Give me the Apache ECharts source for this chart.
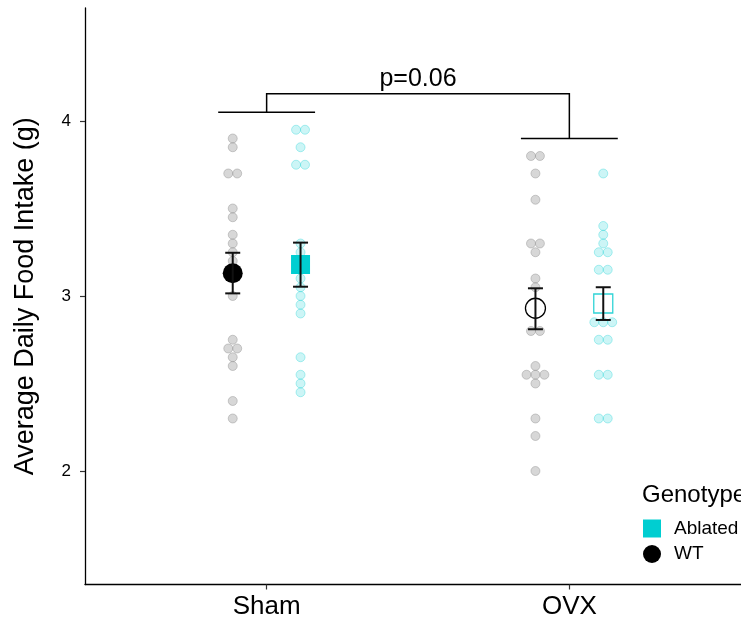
<!DOCTYPE html>
<html>
<head>
<meta charset="utf-8">
<script src="https://cdn.jsdelivr.net/npm/echarts@6/dist/echarts.min.js"></script>
<style>
html,body{margin:0;padding:0;background:#fff;}
#chart{width:741px;height:623px;}
</style>
</head>
<body>
<div id="chart"></div>
<script>
// ---- data ----
const categories = ['Sham', 'OVX'];
const genotypes = ['Ablated', 'WT'];
const yTicks = [2, 3, 4];

// individual animals (g/day)
const wtSham  = [3.90, 3.85, 3.70, 3.70, 3.50, 3.45, 3.35, 3.30, 3.25, 3.20, 3.00, 2.75, 2.70, 2.70, 2.65, 2.60, 2.40, 2.30];
const ablSham = [3.95, 3.95, 3.85, 3.75, 3.75, 3.30, 3.25, 3.20, 3.15, 3.10, 3.05, 3.00, 2.95, 2.90, 2.65, 2.55, 2.50, 2.45];
const wtOVX   = [3.80, 3.80, 3.70, 3.55, 3.30, 3.30, 3.25, 3.10, 3.05, 2.80, 2.80, 2.60, 2.55, 2.55, 2.55, 2.50, 2.30, 2.20, 2.00];
const ablOVX  = [3.70, 3.40, 3.35, 3.30, 3.25, 3.25, 3.15, 3.15, 2.85, 2.85, 2.85, 2.75, 2.75, 2.55, 2.55, 2.30, 2.30];

// group means and SE limits [Sham, OVX]
const wtMean  = [3.13, 2.93];
const wtLo    = [3.015, 2.81];
const wtHi    = [3.247, 3.044];
const ablMean = [3.18, 2.957];
const ablLo   = [3.053, 2.863];
const ablHi   = [3.305, 3.05];

// significance bracket
const bracketLow = [4.05, 3.90];
const bracketTop = 4.155;
const pLabel = 'p=0.06';

// ---- layout helpers ----
const dodge = 0.112;
const stackStep = 0.0295;
const FONT = '"Liberation Sans", Arial, Helvetica, sans-serif';

function spread(values, center) {
  const counts = {}, seen = {};
  values.forEach(v => { const k = v.toFixed(2); counts[k] = (counts[k] || 0) + 1; });
  return values.map(v => {
    const k = v.toFixed(2);
    const i = seen[k] || 0; seen[k] = i + 1;
    return [center + (i - (counts[k] - 1) / 2) * stackStep, v];
  });
}

const grayDot = {color: 'rgba(160,160,160,0.42)', borderColor: 'rgba(140,140,140,0.42)', borderWidth: 1, opacity: 1};
const cyanDot = {color: 'rgba(0,206,209,0.2)', borderColor: 'rgba(0,206,209,0.3)', borderWidth: 1, opacity: 1};

function dotSeries(vals, center, style) {
  return {
    type: 'scatter', name: 'dots', data: spread(vals, center), symbol: 'circle', symbolSize: 9,
    itemStyle: style, z: 1, silent: true, emphasis: {disabled: true}
  };
}

const errData = [
  [1 - dodge, wtLo[0], wtHi[0]], [2 - dodge, wtLo[1], wtHi[1]],
  [1 + dodge, ablLo[0], ablHi[0]], [2 + dodge, ablLo[1], ablHi[1]]
];

const chart = echarts.init(document.getElementById('chart'), null, {renderer: 'canvas'});
chart.setOption({
  animation: false,
  textStyle: {fontFamily: FONT},
  grid: {left: 85, right: 0, top: 8, bottom: 38.5},
  xAxis: {
    type: 'value', min: 0.4, max: 2.567,
    splitLine: {show: false},
    axisLine: {show: true, lineStyle: {color: '#000', width: 1.3}},
    axisTick: {show: true, customValues: [1, 2], length: 5, lineStyle: {color: '#333', width: 1.2}},
    axisLabel: {
      customValues: [1, 2], margin: 9, fontSize: 26, color: '#000', fontFamily: FONT,
      formatter: v => categories[Math.round(v) - 1]
    }
  },
  yAxis: {
    type: 'value', min: 1.3514, max: 4.6457,
    name: 'Average Daily Food Intake (g)', nameLocation: 'middle', nameRotate: 90, nameGap: 46,
    nameTextStyle: {fontSize: 27, color: '#000', fontFamily: FONT},
    splitLine: {show: false},
    axisLine: {show: true, lineStyle: {color: '#000', width: 1.3}},
    axisTick: {show: true, customValues: yTicks, length: 5, lineStyle: {color: '#333', width: 1.2}},
    axisLabel: {customValues: yTicks, margin: 14, fontSize: 17, color: '#000', fontFamily: FONT}
  },
  legend: {
    show: true, orient: 'vertical', left: 643, top: 519, padding: 0,
    itemWidth: 18, itemHeight: 18, itemGap: 6.5,
    textStyle: {fontSize: 19, color: '#000', fontFamily: FONT, padding: [0, 0, 0, 8]},
    data: [{name: 'Ablated', icon: 'rect'}, {name: 'WT', icon: 'circle'}],
    selectedMode: false
  },
  graphic: [{
    type: 'text', left: 642, top: 483,
    style: {text: 'Genotype', fontSize: 24, fill: '#000', fontFamily: FONT}
  }],
  series: [
    dotSeries(wtSham, 1 - dodge, grayDot),
    dotSeries(ablSham, 1 + dodge, cyanDot),
    dotSeries(wtOVX, 2 - dodge, grayDot),
    dotSeries(ablOVX, 2 + dodge, cyanDot),
    {
      type: 'scatter', name: 'WT', symbol: 'circle', symbolSize: 20, z: 5,
      itemStyle: {color: '#000', opacity: 1}, emphasis: {disabled: true},
      data: [
        [1 - dodge, wtMean[0]],
        {value: [2 - dodge, wtMean[1]], itemStyle: {color: 'rgba(0,0,0,0)', borderColor: '#000', borderWidth: 1.3, opacity: 1}}
      ]
    },
    {
      type: 'scatter', name: 'Ablated', symbol: 'rect', symbolSize: 19, z: 5,
      itemStyle: {color: '#00CED1', opacity: 1}, emphasis: {disabled: true},
      data: [
        [1 + dodge, ablMean[0]],
        {value: [2 + dodge, ablMean[1]], itemStyle: {color: 'rgba(0,0,0,0)', borderColor: '#2fd4d6', borderWidth: 1.3, opacity: 1}}
      ]
    },
    {
      type: 'custom', name: 'errorbars', z: 6, silent: true,
      encode: {x: 0, y: [1, 2]},
      data: errData,
      renderItem: function (params, api) {
        const x = api.value(0);
        const pLo = api.coord([x, api.value(1)]);
        const pHi = api.coord([x, api.value(2)]);
        const hw = 7.5;
        const st = {stroke: '#111', lineWidth: 2};
        return {
          type: 'group', children: [
            {type: 'line', shape: {x1: pLo[0], y1: pLo[1], x2: pHi[0], y2: pHi[1]}, style: st},
            {type: 'line', shape: {x1: pLo[0] - hw, y1: pLo[1], x2: pLo[0] + hw, y2: pLo[1]}, style: st},
            {type: 'line', shape: {x1: pHi[0] - hw, y1: pHi[1], x2: pHi[0] + hw, y2: pHi[1]}, style: st}
          ]
        };
      }
    },
    {
      type: 'custom', name: 'bracket', z: 6, silent: true,
      encode: {x: 0, y: 1},
      data: [[1, bracketTop]],
      renderItem: function (params, api) {
        const half = 0.16;
        const st = {stroke: '#000', lineWidth: 1.5};
        const a = api.coord([1, bracketLow[0]]);
        const b = api.coord([2, bracketLow[1]]);
        const aL = api.coord([1 - half, bracketLow[0]]), aR = api.coord([1 + half, bracketLow[0]]);
        const bL = api.coord([2 - half, bracketLow[1]]), bR = api.coord([2 + half, bracketLow[1]]);
        const ta = api.coord([1, bracketTop]), tb = api.coord([2, bracketTop]);
        return {
          type: 'group', children: [
            {type: 'line', shape: {x1: aL[0], y1: aL[1], x2: aR[0], y2: aR[1]}, style: st},
            {type: 'line', shape: {x1: bL[0], y1: bL[1], x2: bR[0], y2: bR[1]}, style: st},
            {type: 'polyline', shape: {points: [[a[0], a[1]], [ta[0], ta[1]], [tb[0], tb[1]], [b[0], b[1]]]}, style: {stroke: '#000', lineWidth: 1.5, fill: null}},
            {type: 'text', x: (ta[0] + tb[0]) / 2, y: ta[1] - 2,
              style: {text: pLabel, fontSize: 25, fill: '#000', fontFamily: FONT, align: 'center', verticalAlign: 'bottom'}}
          ]
        };
      }
    }
  ]
});
</script>
</body>
</html>
